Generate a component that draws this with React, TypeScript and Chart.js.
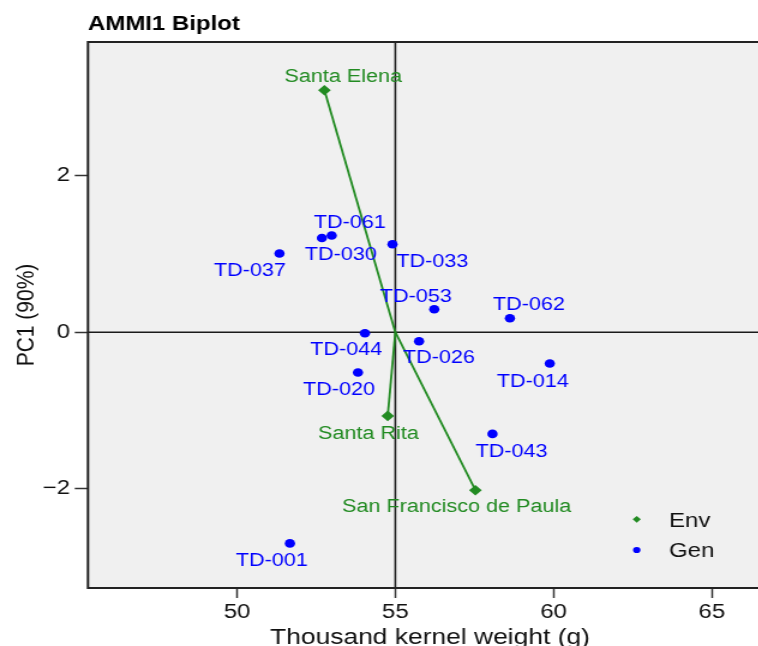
import React, { useEffect, useRef } from 'react';
import { Chart, registerables } from 'chart.js';

Chart.register(...registerables);

// ---- data ----
const genNames = ['TD-001', 'TD-014', 'TD-020', 'TD-026', 'TD-030', 'TD-033', 'TD-037', 'TD-043', 'TD-044', 'TD-053', 'TD-061', 'TD-062'];
const genX = [51.67, 59.88, 53.82, 55.75, 52.68, 54.91, 51.34, 58.07, 54.04, 56.23, 52.99, 58.62];
const genY = [-2.7, -0.4, -0.515, -0.115, 1.205, 1.125, 1.006, -1.3, -0.013, 0.294, 1.236, 0.179];
const envNames = ['San Francisco de Paula', 'Santa Elena', 'Santa Rita'];
const envX = [57.53, 52.76, 54.76];
const envY = [-2.02, 3.093, -1.07];
const grandMean = 55;
const xTicks = [50, 55, 60, 65];
const yTicks = [-2, 0, 2];
const xRange = [45.29, 66.9];
const yRange = [-3.27, 3.71];

// ---- layout (label offsets in px, same order as names) ----
const genLabelOffsets = [
  [-15, 16], [-14.2, 17], [-15.7, 15.7], [16.5, 15.7], [15.7, 16.1], [33.2, 16],
  [-24.7, 15.7], [15.8, 16.3], [-15.6, 15.7], [-15.4, -14], [15, -13.6], [15.8, -15],
];
const envLabelOffsets = [[-15.7, 15.5], [15.6, -14.5], [-16, 16.8]];

const STRETCH = 1.2;
const CW = 650;
const CH = 646;
const FONT = '"Liberation Sans", Arial, Helvetica, sans-serif';
const GREEN = '#228B22';
const BLUE = '#0000FF';
const PANEL = '#f0f0f0';

const fmtTick = (v: number) => (v < 0 ? '\u2212' + Math.abs(v) : String(v));

const biplotPlugin = {
  id: 'biplot',
  beforeDraw(chart: any) {
    const { ctx, chartArea: a } = chart;
    ctx.save();
    ctx.fillStyle = '#ffffff';
    ctx.fillRect(0, 0, chart.width, chart.height);
    ctx.fillStyle = PANEL;
    ctx.fillRect(a.left, a.top, a.right - a.left, a.bottom - a.top);
    ctx.restore();
  },
  beforeDatasetsDraw(chart: any) {
    const { ctx, chartArea: a, scales } = chart;
    const x0 = scales.x.getPixelForValue(grandMean);
    const y0 = scales.y.getPixelForValue(0);
    ctx.save();
    ctx.strokeStyle = '#1a1a1a';
    ctx.lineWidth = 1.6;
    ctx.beginPath();
    ctx.moveTo(x0, a.top);
    ctx.lineTo(x0, a.bottom);
    ctx.moveTo(a.left, y0);
    ctx.lineTo(a.right, y0);
    ctx.stroke();
    ctx.restore();
  },
  afterDatasetsDraw(chart: any) {
    const { ctx, chartArea: a, scales } = chart;
    ctx.save();
    // point labels
    ctx.font = `18px ${FONT}`;
    ctx.textAlign = 'center';
    ctx.textBaseline = 'alphabetic';
    genNames.forEach((n, i) => {
      const px = scales.x.getPixelForValue(genX[i]) + genLabelOffsets[i][0];
      const py = scales.y.getPixelForValue(genY[i]) + genLabelOffsets[i][1];
      ctx.fillStyle = BLUE;
      ctx.fillText(n, px, py + 6.4);
    });
    envNames.forEach((n, i) => {
      const px = scales.x.getPixelForValue(envX[i]) + envLabelOffsets[i][0];
      const py = scales.y.getPixelForValue(envY[i]) + envLabelOffsets[i][1];
      ctx.fillStyle = GREEN;
      ctx.fillText(n, px, py + 6.4);
    });

    // panel border
    ctx.strokeStyle = '#222';
    ctx.lineWidth = 2;
    ctx.strokeRect(a.left, a.top, a.right - a.left, a.bottom - a.top);

    // legend
    const lx = a.right - 112.7;
    const ey = a.bottom - 68.7;
    const gy = a.bottom - 38;
    ctx.fillStyle = GREEN;
    ctx.beginPath();
    ctx.moveTo(lx, ey - 3.4);
    ctx.lineTo(lx + 3.4, ey);
    ctx.lineTo(lx, ey + 3.4);
    ctx.lineTo(lx - 3.4, ey);
    ctx.closePath();
    ctx.fill();
    ctx.fillStyle = BLUE;
    ctx.beginPath();
    ctx.arc(lx, gy, 3.1, 0, Math.PI * 2);
    ctx.fill();
    ctx.fillStyle = '#111';
    ctx.font = `20px ${FONT}`;
    ctx.textAlign = 'left';
    ctx.fillText('Env', a.right - 85.8, a.bottom - 61.3);
    ctx.fillText('Gen', a.right - 85.8, a.bottom - 31);

    // titles
    ctx.fillStyle = '#000';
    ctx.font = `bold 20px ${FONT}`;
    ctx.textAlign = 'left';
    ctx.fillText('AMMI1 Biplot', a.left, 30);
    ctx.fillStyle = '#111';
    ctx.font = `22px ${FONT}`;
    ctx.textAlign = 'center';
    ctx.fillText('Thousand kernel weight (g)', (a.left + a.right) / 2, 644);
    ctx.translate(27.5, (a.top + a.bottom) / 2);
    ctx.rotate(-Math.PI / 2);
    ctx.font = `21px ${FONT}`;
    ctx.fillText('PC1 (90%)', 0, 0);
    ctx.restore();
  },
};

export default function App() {
  const ref = useRef<HTMLCanvasElement>(null);
  useEffect(() => {
    document.body.style.margin = '0';
    const canvas = ref.current!;
    const segments = envNames.map((n, i) => ({
      type: 'line' as const,
      label: n,
      data: [
        { x: grandMean, y: 0 },
        { x: envX[i], y: envY[i] },
      ],
      borderColor: GREEN,
      borderWidth: 1.8,
      pointRadius: 0,
      showLine: true,
      fill: false,
    }));
    const chart = new Chart(canvas, {
      type: 'scatter',
      data: {
        datasets: [
          ...segments,
          {
            label: 'Env',
            data: envX.map((x, i) => ({ x, y: envY[i] })),
            pointStyle: 'rectRot',
            pointRadius: 5.3,
            backgroundColor: GREEN,
            borderWidth: 0,
          },
          {
            label: 'Gen',
            data: genX.map((x, i) => ({ x, y: genY[i] })),
            pointStyle: 'circle',
            pointRadius: 4.3,
            backgroundColor: BLUE,
            borderWidth: 0,
          },
        ] as any,
      },
      options: {
        responsive: false,
        animation: false,
        devicePixelRatio: 1,
        events: [],
        layout: { padding: { top: 42, right: CW - 643.3, left: 0, bottom: 0 } },
        plugins: { legend: { display: false }, tooltip: { enabled: false }, title: { display: false } },
        scales: {
          x: {
            type: 'linear',
            min: xRange[0],
            max: xRange[1],
            afterBuildTicks: (s: any) => {
              s.ticks = xTicks.map((v) => ({ value: v }));
            },
            afterFit: (s: any) => {
              s.height = 58;
            },
            border: { display: false },
            grid: { drawOnChartArea: false, drawTicks: true, tickLength: 10, tickColor: '#333', tickWidth: 1.5 },
            ticks: {
              padding: 2,
              color: '#111',
              font: { family: FONT, size: 20 },
              maxRotation: 0,
              callback: (v: any) => fmtTick(Number(v)),
            },
          },
          y: {
            type: 'linear',
            min: yRange[0],
            max: yRange[1],
            afterBuildTicks: (s: any) => {
              s.ticks = yTicks.map((v) => ({ value: v }));
            },
            afterFit: (s: any) => {
              s.width = 73.3;
            },
            border: { display: false },
            grid: { drawOnChartArea: false, drawTicks: true, tickLength: 11, tickColor: '#333', tickWidth: 1.5 },
            ticks: {
              padding: 4,
              color: '#111',
              font: { family: FONT, size: 20 },
              callback: (v: any) => fmtTick(Number(v)),
            },
          },
        },
      },
      plugins: [biplotPlugin],
    });
    return () => chart.destroy();
  }, []);

  return (
    <div style={{ position: 'absolute', left: 0, top: 0, width: 758, height: 646, overflow: 'hidden', background: '#fff' }}>
      <div style={{ transform: `scaleX(${STRETCH})`, transformOrigin: '0 0', width: CW, height: CH }}>
        <canvas ref={ref} width={CW} height={CH} style={{ display: 'block', width: CW, height: CH }} />
      </div>
    </div>
  );
}
